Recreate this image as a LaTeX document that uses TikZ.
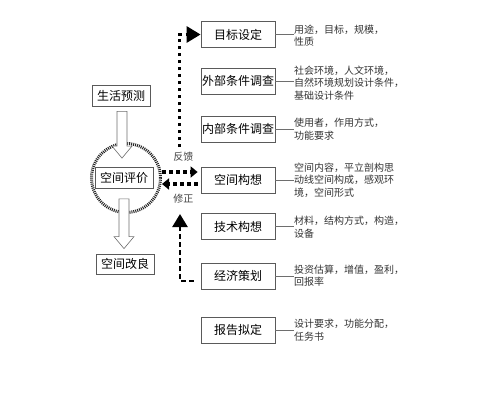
\documentclass[tikz,border=0pt]{standalone}
\usepackage{fontspec}
\newfontfamily\cjk{Noto Sans CJK SC}
\usetikzlibrary{arrows.meta,positioning,calc}
\definecolor{boxgray}{RGB}{90,90,90}
\definecolor{linegray}{RGB}{110,110,110}
\newcommand{\blockdown}[2]{%
  \draw[hollow] ($(#1)+(-5,0)$) -- ($(#1)+(5,0)$) -- ($(#2)+(5,-12)$) -- ($(#2)+(10,-12)$)
    -- (#2) -- ($(#2)+(-10,-12)$) -- ($(#2)+(-5,-12)$) -- cycle;}

\begin{document}
\begin{tikzpicture}[x=1pt, y=-1pt, >=Triangle,
  font=\cjk\fontsize{12}{14}\selectfont,
  stage/.style={draw=boxgray, line width=0.8pt, minimum width=74pt,
                minimum height=26pt, inner sep=1pt},
  side/.style={draw=boxgray, line width=0.8pt, minimum width=58pt,
               minimum height=21pt, inner sep=1pt},
  note/.style={anchor=west, align=left, inner sep=0pt,
               font=\cjk\fontsize{10}{12.5}\selectfont, text=black!80},
  tie/.style={draw=linegray, line width=0.6pt},
  hollow/.style={draw=linegray, line width=0.6pt, fill=white},
  dotline/.style={line width=3pt, dash pattern=on 3pt off 4pt},
  fbline/.style={line width=4pt, dash pattern=on 4pt off 3pt},
  dashline/.style={line width=2.5pt, dash pattern=on 5pt off 3pt}]
\useasboundingbox (0,0) rectangle (500,400);

% --- stages on the right ---
\node[stage] (goal)   at (238,34.5) {目标设定};
\node[stage] (outer)  at (238,81)   {外部条件调查};
\node[stage] (inner)  at (238,129)  {内部条件调查};
\node[stage] (space)  at (238,180)  {空间构想};
\node[stage] (tech)   at (238,226.5){技术构想};
\node[stage] (econ)   at (238,276)  {经济策划};
\node[stage] (report) at (238,330)  {报告拟定};

% --- notes, each tied to its stage ---
\node[note] (goaln)   at (294,35.5) {用途，目标，规模，\\性质};
\node[note] (outern)  at (294,83)   {社会环境，人文环境，\\自然环境规划设计条件，\\基础设计条件};
\node[note] (innern)  at (294,129)  {使用者，作用方式，\\功能要求};
\node[note] (spacen)  at (294,180)  {空间内容，平立剖构思\\动线空间构成，感观环\\境，空间形式};
\node[note] (techn)   at (294,227)  {材料，结构方式，构造，\\设备};
\node[note] (econn)   at (294,275.5){投资估算，增值，盈利，\\回报率};
\node[note] (reportn) at (294,330)  {设计要求，功能分配，\\任务书};
\foreach \s in {goal,outer,inner,space,tech,econ,report}{
  \draw[tie] (\s.east) -- (\s n.west |- \s.east);
}

% --- left column ---
\node[circle, draw=black!85, minimum size=69pt, line width=3pt,
      dash pattern=on 1pt off 1pt] (ring) at (126,178) {};
\node[side] (fore)    at (121,95.5) {生活预测};
\node[side, fill=white] (eval) at (124,178) {空间评价};
\node[side, minimum height=20pt] (improve) at (125,264) {空间改良};

\coordinate (a1) at ($(fore.south)+(1,5)$);
\coordinate (a1tip) at ($(a1 |- eval.north)+(0,-9)$);
\blockdown{a1}{a1tip}
\coordinate (a2) at ($(eval.south)+(0,10)$);
\coordinate (a2tip) at ($(a2 |- improve.north)+(0,-5)$);
\blockdown{a2}{a2tip}

% --- feedback loops ---
\coordinate (fbtop) at (179,147);
\draw[dotline, -{Triangle[length=14pt,width=16pt]}] (fbtop) |- (goal.west);

\draw[fbline, -{Triangle[length=7pt,width=11pt]}]
  ($(ring.east)+(0,-6)$) -- ($(space.west)+(-3,-8)$)
  node[pos=0.6, above=5pt, font=\cjk\fontsize{10}{12}\selectfont, text=black!75] {反馈};
\draw[fbline, -{Triangle[length=7pt,width=11pt]}]
  ($(space.west)+(-3,4)$) -- ($(ring.east)+(0,6)$)
  node[pos=0.4, below=5pt, font=\cjk\fontsize{10}{12}\selectfont, text=black!75] {修正};

\coordinate (fbbot) at (180,214);
\draw[dashline, -{Triangle[length=13pt,width=15pt]}] ($(econ.west)+(-7,5)$) -| (fbbot);
\end{tikzpicture}
\end{document}
